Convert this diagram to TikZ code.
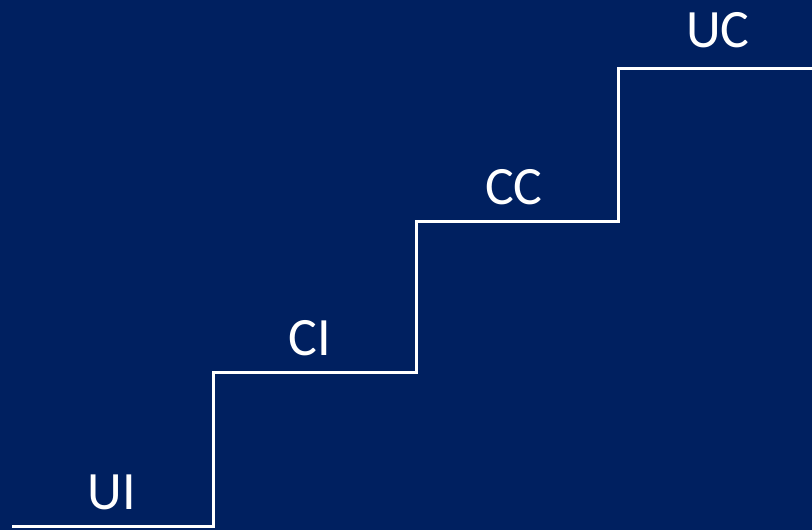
\documentclass[tikz,border=0pt]{standalone}
\usepackage{fontspec}
\setmainfont{Carlito}
\definecolor{navy}{RGB}{0,32,96}
\begin{document}
\begin{tikzpicture}[
    x=1pt,y=1pt,
    font=\fontsize{54}{60}\selectfont,
    etiqueta/.style={text=white,anchor=base,inner sep=0pt},
    escalon/.style={draw=white,line width=3pt,line join=miter}]

  %% ============================== fondo ====================================
  \fill[navy] (0,0) rectangle (812,530);
  \useasboundingbox (0,0) rectangle (812,530);

  %% ============================ escalera ===================================
  \foreach \i/\px/\py in {0/12/3, 1/213/3, 2/213/157, 3/416/157,
                          4/416/308, 5/618/308, 6/618/461, 7/814/461}
    \coordinate (s\i) at (\px,\py);
  \draw[escalon] (s0) -- (s1) -- (s2) -- (s3) -- (s4) -- (s5) -- (s6) -- (s7);

  %% ============================ etiquetas ==================================
  \foreach \i/\px/\py/\txt in {1/112/20/UI, 2/310/174/CI, 3/514/325/CC, 4/718/482/UC}
    \node[etiqueta] (e\i) at (\px,\py) {\txt};

\end{tikzpicture}
\end{document}
